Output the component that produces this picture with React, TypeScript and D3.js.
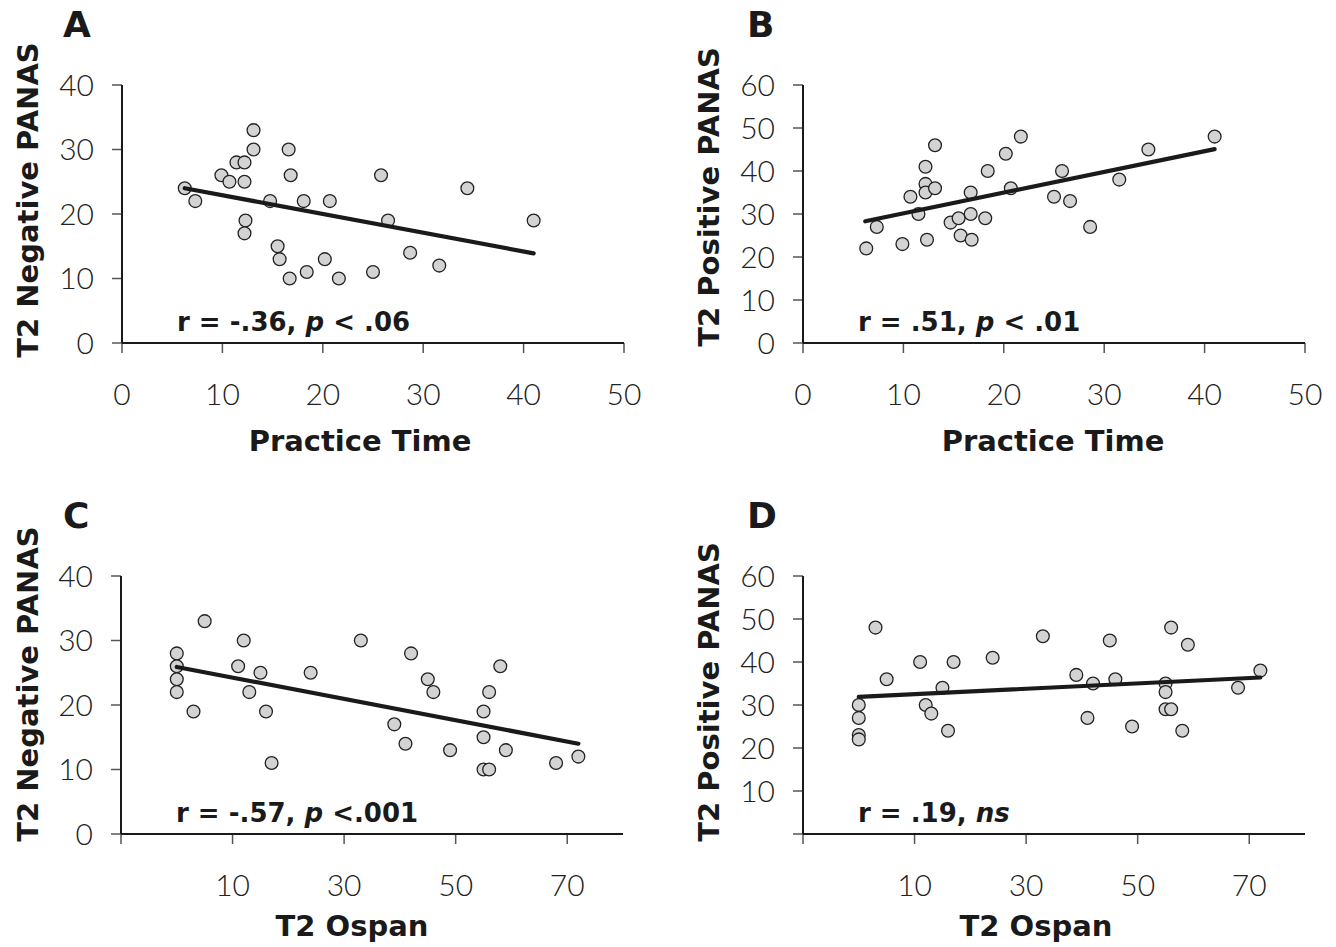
import React from "react";
import * as d3 from "d3";

// ---------- Data ----------
const practiceTimeA = [6.25, 7.3, 9.9, 10.7, 11.4, 12.2, 12.2, 13.1, 13.1, 12.3, 12.2, 14.75, 15.5, 15.7, 16.6, 16.8, 16.7, 18.1, 18.4, 20.2, 20.7, 21.6, 25.0, 25.8, 26.5, 28.7, 31.6, 34.4, 41.0];
const negPanasA = [24, 22, 26, 25, 28, 28, 25, 33, 30, 19, 17, 22, 15, 13, 30, 26, 10, 22, 11, 13, 22, 10, 11, 26, 19, 14, 12, 24, 19];

const practiceTimeB = [6.3, 7.35, 9.9, 10.7, 11.5, 12.2, 12.2, 12.2, 12.35, 13.15, 13.15, 14.7, 15.5, 15.7, 16.7, 16.7, 16.8, 18.15, 18.4, 20.2, 20.7, 21.7, 25.0, 25.8, 26.6, 28.6, 31.5, 34.4, 41.0];
const posPanasB = [22, 27, 23, 34, 30, 41, 37, 35, 24, 36, 46, 28, 29, 25, 30, 35, 24, 29, 40, 44, 36, 48, 34, 40, 33, 27, 38, 45, 48];

const ospanC = [0, 0, 0, 0, 3, 5, 11, 12, 13, 15, 16, 17, 24, 33, 39, 41, 42, 45, 46, 49, 55, 55, 55, 56, 56, 58, 59, 68, 72];
const negPanasC = [28, 26, 24, 22, 19, 33, 26, 30, 22, 25, 19, 11, 25, 30, 17, 14, 28, 24, 22, 13, 19, 15, 10, 10, 22, 26, 13, 11, 12];

const ospanD = [0, 0, 0, 0, 3, 5, 11, 12, 13, 15, 16, 17, 24, 33, 39, 41, 42, 45, 46, 49, 55, 55, 55, 56, 56, 58, 59, 68, 72];
const posPanasD = [30, 27, 23, 22, 48, 36, 40, 30, 28, 34, 24, 40, 41, 46, 37, 27, 35, 45, 36, 25, 35, 33, 29, 29, 48, 24, 44, 34, 38];

// fitted regression lines: [x, y] at both ends
const fitA = [[6.25, 24.0], [41.0, 13.9]];
const fitB = [[6.2, 28.3], [41.0, 45.1]];
const fitC = [[0, 25.9], [72, 14.0]];
const fitD = [[0, 31.9], [72, 36.4]];

const practiceTicks = [0, 10, 20, 30, 40, 50];
const practiceTickLabels = ["0", "10", "20", "30", "40", "50"];
const ospanTicks = [-10, 10, 30, 50, 70];
const ospanTickLabels = ["", "10", "30", "50", "70"];
const negTicks = [0, 10, 20, 30, 40];
const negTickLabels = ["0", "10", "20", "30", "40"];
const posTicks = [0, 10, 20, 30, 40, 50, 60];
const posTickLabelsB = ["0", "10", "20", "30", "40", "50", "60"];
const posTickLabelsD = ["", "10", "20", "30", "40", "50", "60"];

const panelLetters = ["A", "B", "C", "D"];
const statsA = { r: "r = -.36, ", p: "p", rest: " < .06" };
const statsB = { r: "r = .51, ", p: "p", rest: " < .01" };
const statsC = { r: "r = -.57, ", p: "p", rest: " <.001" };
const statsD = { r: "r = .19, ", p: "ns", rest: "" };

const LIGHT = "'Lato', 'Open Sans', 'DejaVu Sans', sans-serif";
const BOLD = "'DejaVu Sans', 'Open Sans', sans-serif";

type PanelProps = {
  letter: string;
  xs: number[];
  ys: number[];
  fit: number[][];
  xDomain: [number, number];
  yDomain: [number, number];
  xTicks: number[];
  xTickLabels: string[];
  yTicks: number[];
  yTickLabels: string[];
  xTitle: string;
  yTitle: string;
  stats: { r: string; p: string; rest: string };
  left: number;
  right: number;
  top: number;
  bottom: number;
  xTitleX: number;
  xTitleOffset: number;
  yTitleX: number;
  yTitleY: number;
  letterX: number;
  letterY: number;
};

function Panel(p: PanelProps) {
  const x = d3.scaleLinear().domain(p.xDomain).range([p.left, p.right]);
  const y = d3.scaleLinear().domain(p.yDomain).range([p.bottom, p.top]);
  const line = d3
    .line<number[]>()
    .x((d) => x(d[0]))
    .y((d) => y(d[1]));
  const tickCol = "#555";
  return (
    <g>
      <text x={p.letterX} y={p.letterY} fontFamily={BOLD} fontWeight={700} fontSize={36} fill="#1a1a1a">
        {p.letter}
      </text>
      {/* y ticks */}
      {p.yTicks.map((t, i) => (
        <g key={"yt" + i}>
          <line x1={p.left - 10} x2={p.left} y1={y(t)} y2={y(t)} stroke={tickCol} strokeWidth={1.5} />
          <text
            x={p.left - 28}
            y={y(t)}
            dy="0.36em"
            textAnchor="end"
            fontFamily={LIGHT}
            fontWeight={300}
            fontSize={30}
            fill="#222"
          >
            {p.yTickLabels[i]}
          </text>
        </g>
      ))}
      {/* x ticks */}
      {p.xTicks.map((t, i) => (
        <g key={"xt" + i}>
          <line x1={x(t)} x2={x(t)} y1={p.bottom} y2={p.bottom + 10} stroke={tickCol} strokeWidth={1.5} />
          <text
            x={x(t)}
            y={p.bottom + 62}
            textAnchor="middle"
            fontFamily={LIGHT}
            fontWeight={300}
            fontSize={30}
            fill="#222"
          >
            {p.xTickLabels[i]}
          </text>
        </g>
      ))}
      {/* axes */}
      <line x1={p.left} x2={p.left} y1={p.top} y2={p.bottom} stroke="#1a1a1a" strokeWidth={2} />
      <line x1={p.left} x2={p.right} y1={p.bottom} y2={p.bottom} stroke="#1a1a1a" strokeWidth={2} />
      {/* points */}
      {p.xs.map((v, i) => (
        <circle key={"pt" + i} cx={x(v)} cy={y(p.ys[i])} r={6.4} fill="#d3d3d3" stroke="#222" strokeWidth={1.3} />
      ))}
      {/* fit line */}
      <path d={line(p.fit) || ""} fill="none" stroke="#1a1a1a" strokeWidth={4.2} strokeLinecap="round" />
      {/* stats */}
      <text x={p.left + 55} y={p.bottom - 12} fontFamily={BOLD} fontWeight={700} fontSize={26} fill="#1a1a1a">
        <tspan>{p.stats.r}</tspan>
        <tspan fontStyle="italic">{p.stats.p}</tspan>
        <tspan>{p.stats.rest}</tspan>
      </text>
      {/* axis titles */}
      <text
        x={p.xTitleX}
        y={p.bottom + p.xTitleOffset}
        textAnchor="middle"
        fontFamily={BOLD}
        fontWeight={700}
        fontSize={29}
        fill="#1a1a1a"
      >
        {p.xTitle}
      </text>
      <text
        transform={`translate(${p.yTitleX},${p.yTitleY}) rotate(-90)`}
        textAnchor="middle"
        fontFamily={BOLD}
        fontWeight={700}
        fontSize={29}
        fill="#1a1a1a"
      >
        {p.yTitle}
      </text>
    </g>
  );
}

export default function App() {
  return (
    <svg
      width={1336}
      height={947}
      viewBox="0 0 1336 947"
      style={{ position: "absolute", left: 0, top: 0, background: "#fff" }}
    >
      <rect x={0} y={0} width={1336} height={947} fill="#fff" />
      <Panel
        letter={panelLetters[0]}
        xs={practiceTimeA}
        ys={negPanasA}
        fit={fitA}
        xDomain={[0, 50]}
        yDomain={[0, 40]}
        xTicks={practiceTicks}
        xTickLabels={practiceTickLabels}
        yTicks={negTicks}
        yTickLabels={negTickLabels}
        xTitle="Practice Time"
        yTitle="T2 Negative PANAS"
        stats={statsA}
        left={122}
        right={624}
        top={85}
        bottom={343}
        xTitleX={360}
        xTitleOffset={108}
        yTitleX={38}
        yTitleY={200}
        letterX={63}
        letterY={37}
      />
      <Panel
        letter={panelLetters[1]}
        xs={practiceTimeB}
        ys={posPanasB}
        fit={fitB}
        xDomain={[0, 50]}
        yDomain={[0, 60]}
        xTicks={practiceTicks}
        xTickLabels={practiceTickLabels}
        yTicks={posTicks}
        yTickLabels={posTickLabelsB}
        xTitle="Practice Time"
        yTitle="T2 Positive PANAS"
        stats={statsB}
        left={803}
        right={1305}
        top={85}
        bottom={343}
        xTitleX={1053}
        xTitleOffset={108}
        yTitleX={719}
        yTitleY={197}
        letterX={747}
        letterY={37}
      />
      <Panel
        letter={panelLetters[2]}
        xs={ospanC}
        ys={negPanasC}
        fit={fitC}
        xDomain={[-10, 80]}
        yDomain={[0, 40]}
        xTicks={ospanTicks}
        xTickLabels={ospanTickLabels}
        yTicks={negTicks}
        yTickLabels={negTickLabels}
        xTitle="T2 Ospan"
        yTitle="T2 Negative PANAS"
        stats={statsC}
        left={121}
        right={623}
        top={576}
        bottom={834}
        xTitleX={352}
        xTitleOffset={102}
        yTitleX={38}
        yTitleY={684}
        letterX={63}
        letterY={528}
      />
      <Panel
        letter={panelLetters[3]}
        xs={ospanD}
        ys={posPanasD}
        fit={fitD}
        xDomain={[-10, 80]}
        yDomain={[0, 60]}
        xTicks={ospanTicks}
        xTickLabels={ospanTickLabels}
        yTicks={posTicks}
        yTickLabels={posTickLabelsD}
        xTitle="T2 Ospan"
        yTitle="T2 Positive PANAS"
        stats={statsD}
        left={803}
        right={1305}
        top={576}
        bottom={834}
        xTitleX={1036}
        xTitleOffset={102}
        yTitleX={719}
        yTitleY={692}
        letterX={747}
        letterY={528}
      />
    </svg>
  );
}
